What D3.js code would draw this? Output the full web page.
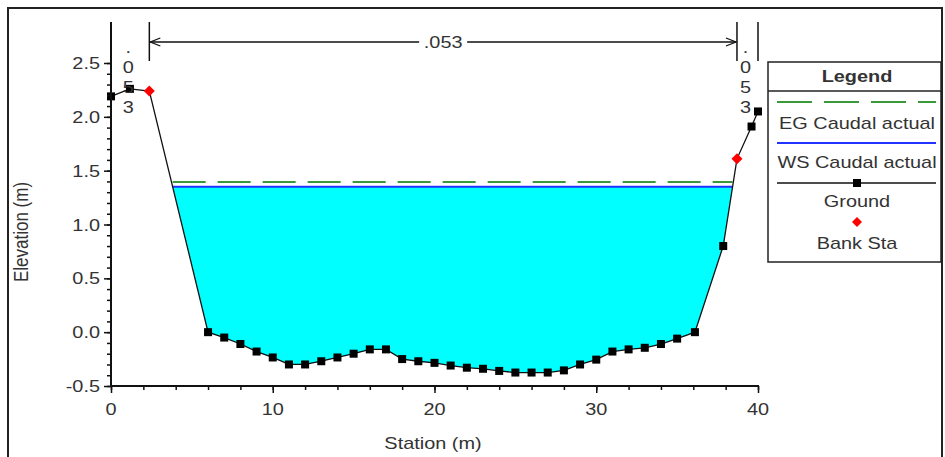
<!DOCTYPE html>
<html><head><meta charset="utf-8">
<script src="https://cdn.jsdelivr.net/npm/d3@7"></script>
<style>
body{margin:0;background:#fff;}
text{font-family:"Liberation Sans",Arial,sans-serif;fill:#333;}
</style></head>
<body><svg id="c" width="945" height="457"></svg>
<script>
// ---- data ----
const stations = [0, 1.17, 2.37, 6, 7, 8, 9, 10, 11, 12, 13, 14, 15, 16, 17, 18, 19, 20, 21, 22, 23, 24, 25, 26, 27, 28, 29, 30, 31, 32, 33, 34, 35, 36.1, 37.85, 38.7, 39.6, 40];
const elevations = [2.19, 2.26, 2.24, 0.0, -0.05, -0.11, -0.18, -0.235, -0.30, -0.30, -0.27, -0.235, -0.20, -0.16, -0.16, -0.25, -0.27, -0.285, -0.31, -0.33, -0.34, -0.36, -0.375, -0.375, -0.375, -0.355, -0.30, -0.255, -0.18, -0.16, -0.145, -0.11, -0.06, 0.0, 0.80, 1.61, 1.91, 2.05];
const bankStations = [2.37, 38.7];
const wsElevation = 1.35;
const egElevation = 1.395;
const nValues = [".053", ".053", ".053"];
const nBreaks = [0, 2.37, 38.7, 40];
const xTicks = [0, 10, 20, 30, 40];
const yTicks = [-0.5, 0.0, 0.5, 1.0, 1.5, 2.0, 2.5];
const yTickLabels = ["-0.5", "0.0", "0.5", "1.0", "1.5", "2.0", "2.5"];
const legendItems = ["EG Caudal actual", "WS Caudal actual", "Ground", "Bank Sta"];

const svg = d3.select("#c");
const SX = 1.17;
const x = d3.scaleLinear().domain([0, 40]).range([111, 758]);
const y = d3.scaleLinear().domain([-0.5, 2.5]).range([386, 63]);

function label(g, px, py, txt, anchor, size, bold) {
  return g.append("text").attr("transform", `translate(${px},${py}) scale(${SX},1)`)
    .attr("text-anchor", anchor).attr("font-size", size || 17)
    .attr("font-weight", bold ? "bold" : null).text(txt);
}

// outer frame
svg.append("rect").attr("x", 8).attr("y", 8).attr("width", 934).attr("height", 470)
  .attr("fill", "none").attr("stroke", "#222").attr("stroke-width", 2);

const ground = stations.map((s, i) => [s, elevations[i]]);

// water fill: compute intersections of WS with ground
function crossings(level) {
  const pts = [];
  for (let i = 0; i < ground.length - 1; i++) {
    const [s0, e0] = ground[i], [s1, e1] = ground[i + 1];
    if ((e0 - level) * (e1 - level) < 0) {
      pts.push(s0 + (level - e0) / (e1 - e0) * (s1 - s0));
    }
  }
  return pts;
}
const cr = crossings(wsElevation);
const wl = cr[0], wr = cr[cr.length - 1];
const waterPts = [[wl, wsElevation]].concat(ground.filter(d => d[0] > wl && d[0] < wr)).concat([[wr, wsElevation]]);
svg.append("path").attr("d", d3.line().x(d => x(d[0])).y(d => y(d[1]))(waterPts) + "Z")
  .attr("fill", "#00ffff").attr("stroke", "none");

// EG and WS lines
svg.append("line").attr("x1", x(wl)).attr("x2", x(wr)).attr("y1", y(egElevation)).attr("y2", y(egElevation))
  .attr("stroke", "#3a9a3a").attr("stroke-width", 2).attr("stroke-dasharray", "33,12");
svg.append("line").attr("x1", x(wl)).attr("x2", x(wr)).attr("y1", y(wsElevation)).attr("y2", y(wsElevation))
  .attr("stroke", "#2233ff").attr("stroke-width", 2);

// ground line
svg.append("path").attr("d", d3.line().x(d => x(d[0])).y(d => y(d[1]))(ground))
  .attr("fill", "none").attr("stroke", "#111").attr("stroke-width", 1.3);
svg.append("g").selectAll("rect").data(ground.filter(d => !bankStations.includes(d[0]))).join("rect")
  .attr("x", d => x(d[0]) - 4).attr("y", d => y(d[1]) - 4).attr("width", 8).attr("height", 8).attr("fill", "#000");
svg.append("g").selectAll("path").data(ground.filter(d => bankStations.includes(d[0]))).join("path")
  .attr("transform", d => `translate(${x(d[0])},${y(d[1])})`)
  .attr("d", "M0,-5.5L5.5,0L0,5.5L-5.5,0Z").attr("fill", "#ff0000");

// axes
const ax = svg.append("g");
ax.append("g").attr("transform", "translate(0,386)")
  .call(d3.axisBottom(x).tickValues(d3.range(0, 41, 2)).tickSize(4).tickFormat("").tickSizeOuter(0))
  .call(g => g.select(".domain").remove());
ax.append("g").attr("transform", "translate(0,386)")
  .call(d3.axisBottom(x).tickValues(xTicks).tickSize(7).tickFormat("").tickSizeOuter(0))
  .call(g => g.select(".domain").remove());
ax.append("g").attr("transform", "translate(111,0)")
  .call(d3.axisLeft(y).tickValues(d3.range(-5, 26).map(v => v / 10)).tickSize(4).tickFormat("").tickSizeOuter(0))
  .call(g => g.select(".domain").remove());
ax.append("g").attr("transform", "translate(111,0)")
  .call(d3.axisLeft(y).tickValues(yTicks).tickSize(7).tickFormat("").tickSizeOuter(0))
  .call(g => g.select(".domain").remove());
ax.selectAll(".tick line").attr("stroke", "#111").attr("stroke-width", 1.5);
ax.append("line").attr("x1", 111).attr("x2", 111).attr("y1", 22).attr("y2", 387).attr("stroke", "#111").attr("stroke-width", 2);
ax.append("line").attr("x1", 110).attr("x2", x(40) + 1).attr("y1", 386).attr("y2", 386).attr("stroke", "#111").attr("stroke-width", 2);

xTicks.forEach(v => label(svg, x(v), 415, String(v), "middle"));
yTicks.forEach((v, i) => label(svg, 100, y(v) + 6, yTickLabels[i], "end"));
label(svg, 433, 449, "Station (m)", "middle");
svg.append("text").attr("transform", "translate(28,232) rotate(-90) scale(1,1.17)")
  .attr("text-anchor", "middle").attr("font-size", 17).text("Elevation (m)");

// Manning n region bars and labels
nBreaks.forEach(s => svg.append("line").attr("x1", x(s)).attr("x2", x(s)).attr("y1", 22).attr("y2", 61)
  .attr("stroke", "#111").attr("stroke-width", 1.5));
const ay = 42;
const xa = x(nBreaks[1]) + 1, xb = x(nBreaks[2]) - 1;
const mid = (xa + xb) / 2;
svg.append("line").attr("x1", xa).attr("x2", mid - 24).attr("y1", ay).attr("y2", ay).attr("stroke", "#111").attr("stroke-width", 1.3);
svg.append("line").attr("x1", mid + 24).attr("x2", xb).attr("y1", ay).attr("y2", ay).attr("stroke", "#111").attr("stroke-width", 1.3);
svg.append("path").attr("d", `M${xa + 10},${ay - 4}L${xa},${ay}L${xa + 10},${ay + 4}`).attr("fill", "none").attr("stroke", "#111").attr("stroke-width", 1.3);
svg.append("path").attr("d", `M${xb - 10},${ay - 4}L${xb},${ay}L${xb - 10},${ay + 4}`).attr("fill", "none").attr("stroke", "#111").attr("stroke-width", 1.3);
label(svg, mid, ay + 6, nValues[1], "middle");
[[0, 0], [2, 2]].forEach(([k, idx]) => {
  const cx = x((nBreaks[k] + nBreaks[k + 1]) / 2) - 2;
  nValues[idx].split("").forEach((ch, j) => label(svg, cx, 53 + j * 20, ch, "middle"));
});

// legend
const lg = svg.append("g");
lg.append("rect").attr("x", 768).attr("y", 62).attr("width", 173).attr("height", 200)
  .attr("fill", "#fff").attr("stroke", "#222").attr("stroke-width", 1.5);
lg.append("line").attr("x1", 768).attr("x2", 941).attr("y1", 91).attr("y2", 91).attr("stroke", "#222").attr("stroke-width", 1.5);
label(lg, 857, 82, "Legend", "middle", 17, true);
lg.append("line").attr("x1", 777).attr("x2", 936).attr("y1", 102).attr("y2", 102)
  .attr("stroke", "#3a9a3a").attr("stroke-width", 2).attr("stroke-dasharray", "35,12");
label(lg, 857, 129, legendItems[0], "middle");
lg.append("line").attr("x1", 777).attr("x2", 936).attr("y1", 143).attr("y2", 143)
  .attr("stroke", "#2233ff").attr("stroke-width", 2);
label(lg, 857, 168, legendItems[1], "middle");
lg.append("line").attr("x1", 777).attr("x2", 936).attr("y1", 183).attr("y2", 183)
  .attr("stroke", "#111").attr("stroke-width", 1.3);
lg.append("rect").attr("x", 853).attr("y", 179).attr("width", 8).attr("height", 8).attr("fill", "#000");
label(lg, 857, 207, legendItems[2], "middle");
lg.append("path").attr("transform", "translate(857,222)").attr("d", "M0,-5L5,0L0,5L-5,0Z").attr("fill", "#ff0000");
label(lg, 857, 249, legendItems[3], "middle");
</script></body></html>
